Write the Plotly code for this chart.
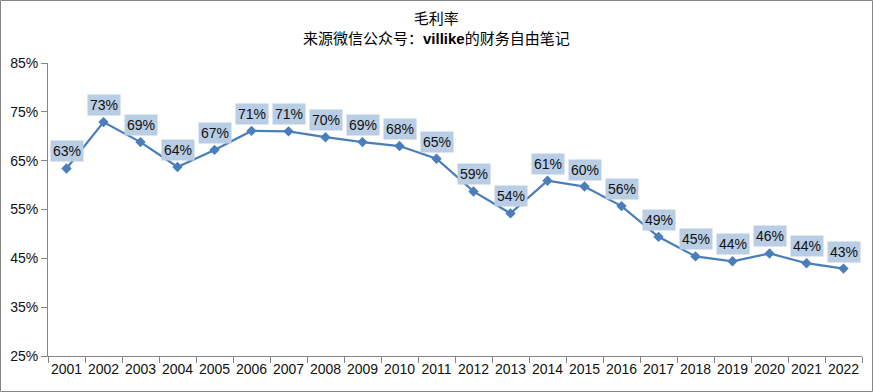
import plotly.graph_objects as go

years = [str(y) for y in range(2001, 2023)]
margin_pct = [63.4, 72.9, 68.8, 63.7, 67.2, 71.1, 71.0, 69.8, 68.8, 68.0, 65.4,
              58.7, 54.2, 60.9, 59.7, 55.7, 49.4, 45.4, 44.4, 46.0, 44.0, 42.9]
y_ticks = [25, 35, 45, 55, 65, 75, 85]
y_tick_labels = [f"{v}%" for v in y_ticks]
title_line1 = "毛利率"
title_line2 = "来源微信公众号：<b>villike</b>的财务自由笔记"

FONT = "Liberation Sans, Arial, Noto Sans CJK SC, sans-serif"
W, H = 873, 392
ML, MR, MT, MB = 48, 11, 63, 36
PW, PH = W - ML - MR, H - MT - MB

fig = go.Figure()
fig.add_trace(go.Scatter(
    x=years, y=margin_pct, mode="lines+markers",
    line=dict(color="#4a7ebb", width=2.25),
    marker=dict(symbol="diamond", size=8, color="#4a7ebb"),
    hoverinfo="x+y", showlegend=False,
))

for i, v in enumerate(margin_pct):
    fig.add_annotation(
        x=i, y=v, xref="x", yref="y",
        text=f"{round(v):d}%", showarrow=False,
        yanchor="bottom", yshift=6,
        bgcolor="#b9cde5", borderpad=2,
        font=dict(family=FONT, size=14, color="#111111"),
    )

fig.add_annotation(
    x=0.5, y=1, xref="paper", yref="paper", yanchor="bottom",
    xshift=(W / 2 - (ML + PW / 2)), yshift=14,
    text=f"{title_line1}<br>{title_line2}", showarrow=False,
    font=dict(family=FONT, size=15, color="#000000"),
)

fig.add_shape(
    type="rect", xref="paper", yref="paper",
    x0=(-ML + 0.5) / PW, x1=1 + (MR - 0.5) / PW,
    y0=(-MB + 0.5) / PH, y1=1 + (MT - 0.5) / PH,
    line=dict(color="#868686", width=1), fillcolor="rgba(0,0,0,0)",
)

fig.update_layout(
    width=W, height=H,
    margin=dict(l=ML, r=MR, t=MT, b=MB),
    paper_bgcolor="white", plot_bgcolor="white",
    font=dict(family=FONT, size=14, color="#111111"),
)
fig.update_xaxes(
    type="category", tickson="boundaries", range=[-0.5, len(years) - 0.5],
    showline=True, linecolor="#868686", linewidth=1,
    ticks="outside", ticklen=6, tickcolor="#868686",
    showgrid=False, tickfont=dict(size=14), tickangle=0,
)
fig.update_yaxes(
    range=[25, 85], tickvals=y_ticks, ticktext=y_tick_labels,
    showline=True, linecolor="#868686", linewidth=1,
    ticks="outside", ticklen=6, tickcolor="#868686",
    showgrid=False, zeroline=False, tickfont=dict(size=14),
)

fig.write_html("out.html", config={"displayModeBar": False},
               post_script="document.body.style.margin='0';")
